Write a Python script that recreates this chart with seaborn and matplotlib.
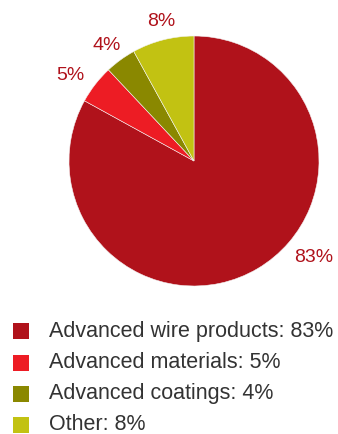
import matplotlib
matplotlib.use("Agg")
import matplotlib.pyplot as plt
import seaborn as sns
from matplotlib.patches import Rectangle

# Revenue split by segment
segments = ["Advanced wire products", "Advanced materials", "Advanced coatings", "Other"]
shares = [83, 5, 4, 8]
colors = ["#B0121B", "#ED1C24", "#8A8800", "#C2C212"]

sns.set_theme(style="white")
plt.rcParams["font.family"] = ["Liberation Sans", "DejaVu Sans"]

W, H = 338, 434
fig = plt.figure(figsize=(W / 100, H / 100), dpi=100)

# pie axes placed in pixel terms: centre (194, 161), radius 125
cx, cy, r = 194, 161, 125
ax = fig.add_axes([(cx - r) / W, (H - cy - r) / H, 2 * r / W, 2 * r / H])

wedges, texts, autotexts = ax.pie(
    shares,
    colors=colors,
    startangle=90,
    counterclock=False,
    radius=1,
    autopct="%d%%",
    pctdistance=1.16,
    wedgeprops=dict(linewidth=0.4, edgecolor="#f4f4f4"),
    textprops=dict(color="#B0121B", fontsize=14),
)
ax.set_xlim(-1, 1)
ax.set_ylim(-1, 1)
ax.set_aspect("equal")
ax.axis("off")

# percentage labels sit just outside the rim (in pie-radius units)
label_pos = [(0.956, -0.772), (-0.988, 0.68), (-0.70, 0.92), (-0.264, 1.116)]
for t, p in zip(autotexts, label_pos):
    t.set_position(p)

# legend rows: square swatch and text
row_y = [331, 363, 394, 425]
for name, val, col, y in zip(segments, shares, colors, row_y):
    fig.add_artist(Rectangle((13 / W, (H - y - 8) / H), 16 / W, 16 / H,
                             transform=fig.transFigure, color=col, lw=0))
    fig.text(49 / W, (H - y) / H, f"{name}: {val}%", color="#333333",
             fontsize=15.5, va="center", ha="left")

fig.savefig("out.png", dpi=100, facecolor="white")
